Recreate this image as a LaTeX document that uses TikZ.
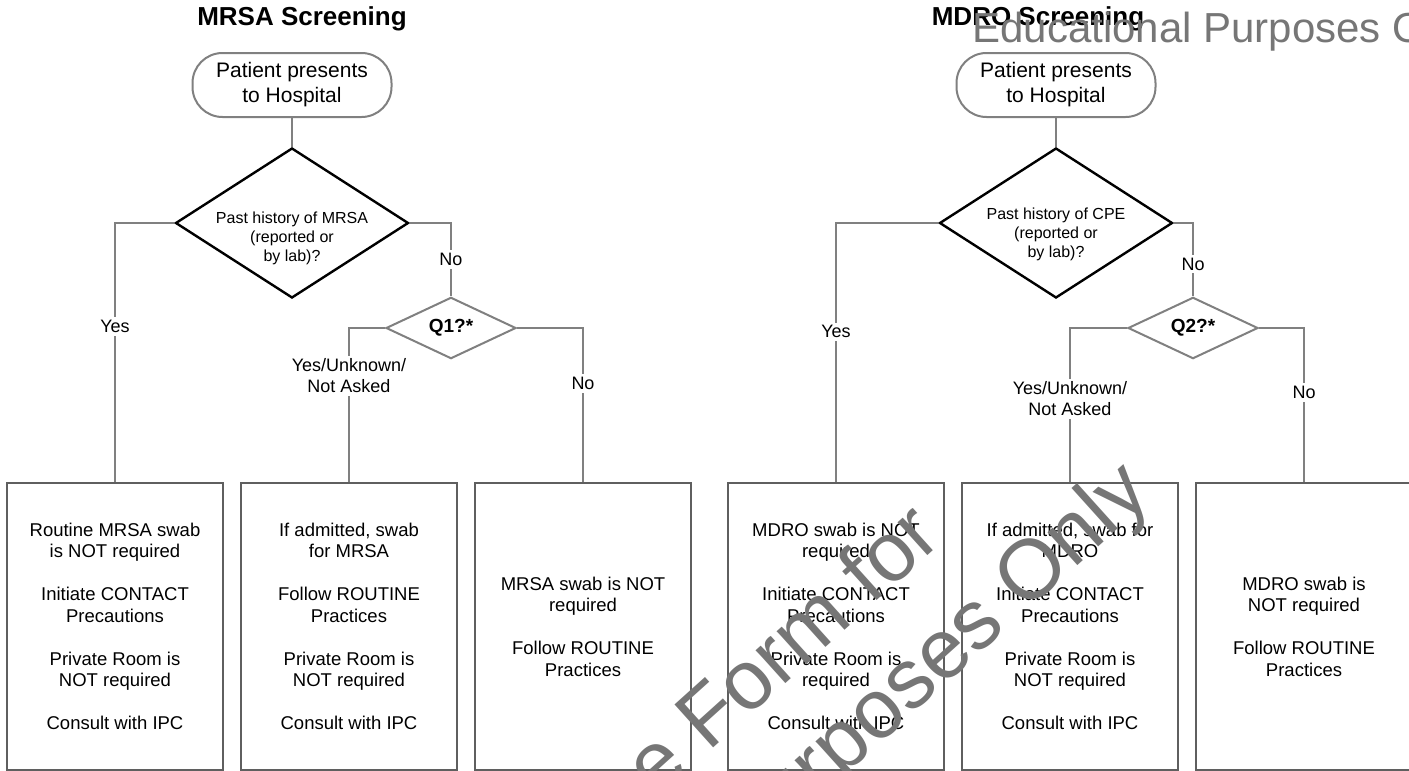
\documentclass[tikz,border=0pt]{standalone}
\usepackage{fontspec}
\setmainfont{Liberation Sans}
\usetikzlibrary{positioning,shapes.geometric}
\definecolor{scrline}{RGB}{128,128,128}
\definecolor{scrbox}{RGB}{95,95,95}
\definecolor{scrmark}{RGB}{118,118,118}
\tikzset{
  startblk/.style={rectangle, rounded corners=15pt, draw=scrline, line width=1pt, align=center,
                   font=\fontsize{10.5}{12.5}\selectfont, minimum width=99.5pt, minimum height=32pt, inner sep=0pt},
  histdia/.style={diamond, draw=black, line width=1.2pt, minimum width=116.5pt, minimum height=75pt, inner sep=0pt},
  histtxt/.style={align=center, font=\fontsize{8}{9.5}\selectfont, inner sep=0pt},
  qdia/.style={diamond, draw=scrline, fill=white, line width=1pt, minimum width=65pt, minimum height=29pt, inner sep=0pt,
               font=\fontsize{9.5}{11}\selectfont\bfseries},
  actblk/.style={rectangle, draw=scrbox, line width=1pt, align=center, font=\fontsize{9.25}{10.75}\selectfont,
                 minimum width=108pt, minimum height=143.5pt, inner sep=2pt},
  lnk/.style={draw=scrline, line width=1pt},
  lbl/.style={fill=white, inner sep=1.5pt, align=center, font=\fontsize{9}{10.5}\selectfont},
  ttl/.style={font=\fontsize{13}{15}\selectfont\bfseries},
  wmark/.style={text=scrmark, inner sep=0pt},
}

\begin{document}
\begin{tikzpicture}[x=0.5pt, y=-0.5pt, node distance=8pt]
    \useasboundingbox (0,0) rectangle (1409,771);
    % MRSA
    \node[ttl](mrsattl) at (302,19){MRSA Screening};
    \node[startblk](mrsastart) at (292,85){Patient presents\\to Hospital};
    \node[histdia](mrsahist) at (292,223){};
    \node[histtxt](mrsahisttxt) at ([yshift=-7.5pt]mrsahist.center){Past history of MRSA\\(reported or\\by lab)?};
    \node[qdia](qone) at (451,328){Q1?*};
    \node[actblk](mrsaa) at (115,626.5){Routine MRSA swab\\is NOT required\\[10.75pt]Initiate CONTACT\\Precautions\\[10.75pt]Private Room is\\NOT required\\[10.75pt]Consult with IPC};
    \node[actblk, right=of mrsaa](mrsab){If admitted, swab\\for MRSA\\[10.75pt]Follow ROUTINE\\Practices\\[10.75pt]Private Room is\\NOT required\\[10.75pt]Consult with IPC};
    \node[actblk, right=of mrsab](mrsac){MRSA swab is NOT\\required\\[10.75pt]Follow ROUTINE\\Practices};
    \draw[lnk](mrsastart)--(mrsahist);
    \draw[lnk](mrsahist.west)-|node[lbl,pos=0.7](mrsayes){Yes}(mrsaa.north);
    \draw[lnk](mrsahist.east)-|node[lbl,pos=0.75](mrsano){No}(qone.north);
    \draw[lnk](qone.west)-|node[lbl,pos=0.655](qoneyes){Yes/Unknown/\\Not Asked}(mrsab.north);
    \draw[lnk](qone.east)-|node[lbl,pos=0.68](qoneno){No}(mrsac.north);
    % MDRO
    \node[ttl](mdrottl) at (1038,19){MDRO Screening};
    \node[startblk](mdrostart) at (1056,85){Patient presents\\to Hospital};
    \node[histdia](mdrohist) at (1056,223){};
    \node[histtxt](mdrohisttxt) at ([yshift=-5.5pt]mdrohist.center){Past history of CPE\\(reported or\\by lab)?};
    \node[qdia](qtwo) at (1193,328){Q2?*};
    \node[actblk](mdroa) at (836,626.5){MDRO swab is NOT\\required\\[10.75pt]Initiate CONTACT\\Precautions\\[10.75pt]Private Room is\\required\\[10.75pt]Consult with IPC};
    \node[actblk, right=of mdroa](mdrob){If admitted, swab for\\MDRO\\[10.75pt]Initiate CONTACT\\Precautions\\[10.75pt]Private Room is\\NOT required\\[10.75pt]Consult with IPC};
    \node[actblk, right=of mdrob](mdroc){MDRO swab is\\NOT required\\[10.75pt]Follow ROUTINE\\Practices};
    \draw[lnk](mdrostart)--(mdrohist);
    \draw[lnk](mdrohist.west)-|node[lbl,pos=0.71](mdroyes){Yes}(mdroa.north);
    \draw[lnk](mdrohist.east)-|node[lbl,pos=0.78](mdrono){No}(qtwo.north);
    \draw[lnk](qtwo.west)-|node[lbl,pos=0.73](qtwoyes){Yes/Unknown/\\Not Asked}(mdrob.north);
    \draw[lnk](qtwo.east)-|node[lbl,pos=0.71](qtwono){No}(mdroc.north);
    % watermark
    \begin{scope}
        \clip (0,0) rectangle (1409,771);
        \node[wmark, font=\fontsize{21}{25}\selectfont, anchor=base west](wmtop) at (972,42){Educational Purposes Only};
        \node[wmark, font=\fontsize{42}{50}\selectfont, rotate=42, anchor=base east](wmform) at (945,540){e Form for};
        \node[wmark, font=\fontsize{42}{50}\selectfont, rotate=42, anchor=base east](wmpurp) at (1154,497){Purposes Only};
    \end{scope}
\end{tikzpicture}
\end{document}
